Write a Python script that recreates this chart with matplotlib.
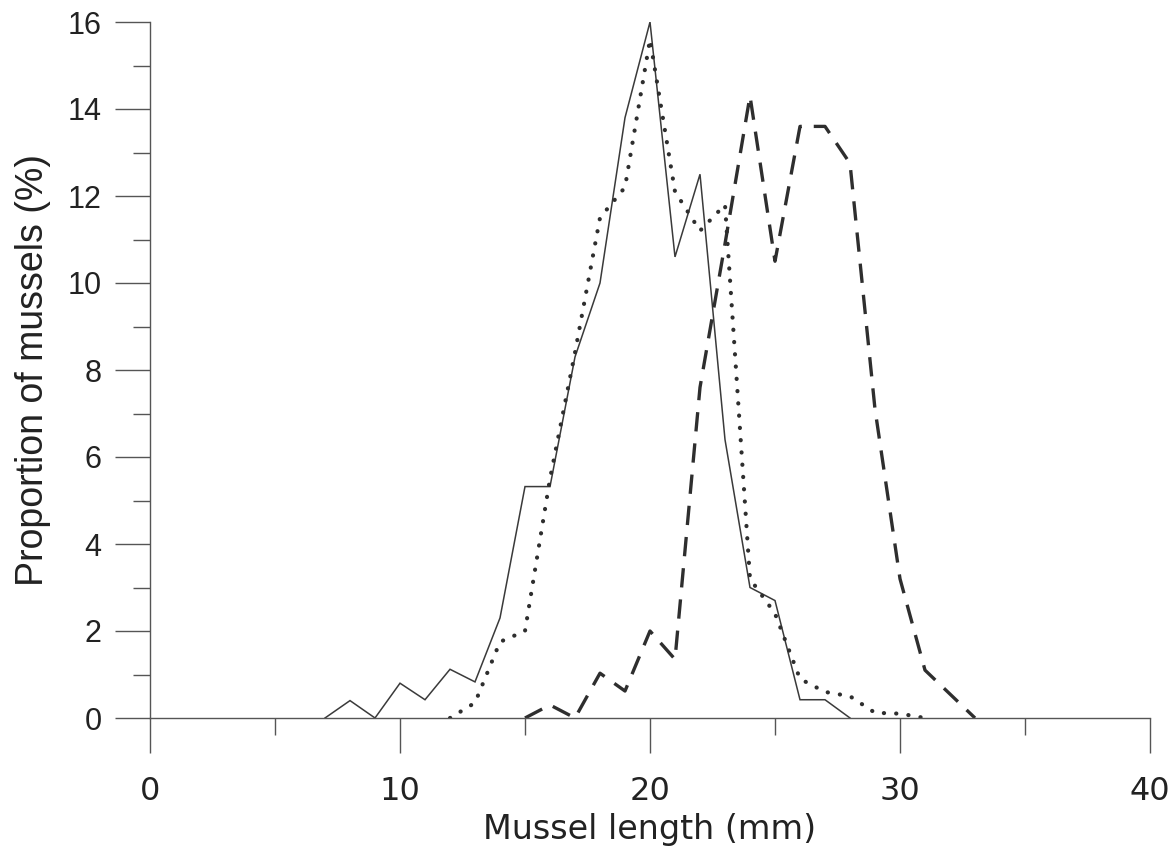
import matplotlib
matplotlib.use("Agg")
import matplotlib.pyplot as plt
from matplotlib import font_manager
from matplotlib.ticker import MultipleLocator

# ---- data ----
solid_x = list(range(7, 29))
solid_y = [0, 0.4, 0, 0.8, 0.42, 1.12, 0.83, 2.3, 5.32, 5.32, 8.3, 10.0,
           13.8, 16.0, 10.6, 12.5, 6.4, 3.0, 2.7, 0.42, 0.42, 0]
dotted_x = list(range(12, 32))
dotted_y = [0, 0.35, 1.75, 2.0, 5.5, 8.4, 11.5, 12.2, 15.6, 12.1, 11.2, 11.8,
            3.2, 2.4, 0.9, 0.6, 0.5, 0.12, 0.1, 0]
dashed_x = list(range(15, 34))
dashed_y = [0, 0.3, 0, 1.03, 0.62, 2.0, 1.35, 7.6, 10.9, 14.3, 10.5, 13.6,
            13.6, 12.75, 7.1, 3.2, 1.1, 0.55, 0]
x_ticks = [0, 10, 20, 30, 40]
y_ticks = [0, 2, 4, 6, 8, 10, 12, 14, 16]
x_label = "Mussel length (mm)"
y_label = "Proportion of mussels (%)"

available = {f.name for f in font_manager.fontManager.ttflist}
narrow = "Liberation Sans Narrow" if "Liberation Sans Narrow" in available else None
base_font = "Liberation Sans"

fig = plt.figure(figsize=(11.76, 8.48), dpi=100)
ax = fig.add_axes([150 / 1176, 1 - 718 / 848, 1000 / 1176, (718 - 22) / 848])

line_col = "#2e2e2e"
ax.plot(solid_x, solid_y, color="#3a3a3a", lw=1.1, solid_joinstyle="miter")
ax.plot(dotted_x, dotted_y, color=line_col, lw=3.0,
        linestyle=(0, (0.05, 2.9)), dash_capstyle="round")
ax.plot(dashed_x, dashed_y, color=line_col, lw=2.4,
        linestyle=(0, (5.8, 3.6)), dash_capstyle="butt")

ax.set_xlim(0, 40)
ax.set_ylim(0, 16)
for s in ["top", "right"]:
    ax.spines[s].set_visible(False)
for s in ["left", "bottom"]:
    ax.spines[s].set_color("#555555")
    ax.spines[s].set_linewidth(1.0)

ax.set_xticks(x_ticks)
ax.xaxis.set_minor_locator(MultipleLocator(5))
ax.set_yticks(y_ticks)
ax.yaxis.set_minor_locator(MultipleLocator(1))
ax.tick_params(axis="both", which="both", direction="out", color="#555555", width=1.0)
ax.tick_params(axis="x", which="major", length=25, pad=17)
ax.tick_params(axis="x", which="minor", length=12.5)
ax.tick_params(axis="y", which="major", length=25, pad=10)
ax.tick_params(axis="y", which="minor", length=12.5)

xfont = dict(family=narrow, fontsize=27) if narrow else dict(family="DejaVu Sans", fontsize=23)
for lab in ax.get_xticklabels():
    lab.set_fontfamily(xfont["family"])
    lab.set_fontsize(xfont["fontsize"])
    lab.set_color("#222222")
for lab in ax.get_yticklabels():
    lab.set_fontfamily(base_font)
    lab.set_fontsize(22)
    lab.set_color("#222222")

ax.set_xlabel(x_label, fontsize=30 if narrow else 24, family=xfont["family"],
              color="#222222", labelpad=4)
ax.set_ylabel(y_label, fontsize=27, family=base_font, color="#222222", labelpad=12)

fig.savefig("out.png", dpi=100, facecolor="white")
